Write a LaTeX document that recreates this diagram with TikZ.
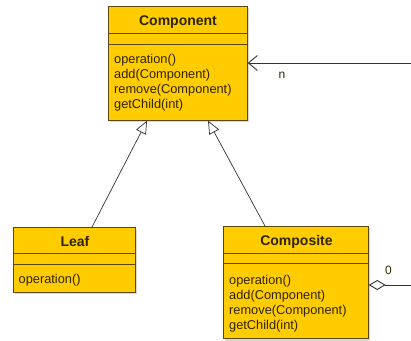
\documentclass[tikz,border=0pt]{standalone}
\usepackage{fontspec}
\setmainfont{Liberation Sans}
\usetikzlibrary{arrows.meta,calc}
\definecolor{umlfill}{HTML}{FFCC00}
\definecolor{umlline}{HTML}{5A4810}
\definecolor{umltext}{HTML}{2E2400}
\definecolor{umlshadow}{HTML}{D8D8D8}
\definecolor{linkcol}{HTML}{333333}
\begin{document}
\begin{tikzpicture}[x=1pt,y=-1pt,
  classbox/.style={draw=umlline, fill=umlfill, line width=0.7pt, inner sep=0pt,
    anchor=north west, minimum width=#1},
  classbox/.default=100pt,
  sepline/.style={draw=umlline, line width=0.8pt},
  title/.style={anchor=base, inner sep=0pt, font=\bfseries\fontsize{14}{16}\selectfont, text=umltext},
  member/.style={anchor=base west, inner sep=0pt,
    font=\fontsize{12.8}{15}\selectfont, text=umltext},
  link/.style={draw=linkcol, line width=0.7pt},
  mult/.style={anchor=base, font=\fontsize{12}{14}\selectfont, text=umltext, inner sep=0pt}]
\useasboundingbox (0,0) rectangle (411,340);
\clip (0,0) rectangle (411,340);

% drop shadows
\fill[umlshadow] (110,8) rectangle (249,122);
\fill[umlshadow] (15,229) rectangle (137,294);
\fill[umlshadow] (225,228) rectangle (370,342);

% Component
\node[classbox=139pt, minimum height=114pt] (comp) at (108,6) {};
\draw[sepline] (108,33) -- (247,33);
\draw[sepline] (108,44) -- (247,44);
\node[title] (compname) at (178,25) {Component};
\node[member] (cop1) at (114,63.3) {operation()};
\node[member] (cop2) at (114,78.3) {add(Component)};
\node[member] (cop3) at (114,93.3) {remove(Component)};
\node[member] (cop4) at (114,108.3) {getChild(int)};

% Leaf
\node[classbox=122pt, minimum height=65pt] (leaf) at (13,227) {};
\draw[sepline] (13,253) -- (135,253);
\draw[sepline] (13,264) -- (135,264);
\node[title] (leafname) at (75,246) {Leaf};
\node[member] (lop1) at (18.5,283) {operation()};

% Composite
\node[classbox=145pt, minimum height=112pt] (compo) at (223,226) {};
\draw[sepline] (223,253) -- (368,253);
\draw[sepline] (223,263.5) -- (368,263.5);
\node[title] (componame) at (296.5,245.5) {Composite};
\node[member] (xop1) at (229,284.3) {operation()};
\node[member] (xop2) at (229,299.3) {add(Component)};
\node[member] (xop3) at (229,314.3) {remove(Component)};
\node[member] (xop4) at (229,329.3) {getChild(int)};

% generalizations
\draw[link, -{Triangle[open, length=13pt, width=11pt, fill=white]}]
  ($(leaf.north west)+(79,0)$) -- ($(comp.south west)+(39,0)$);
\draw[link, -{Triangle[open, length=13pt, width=11pt, fill=white]}]
  ($(compo.north west)+(42,0)$) -- ($(comp.south west)+(100,0)$);

% aggregation of children
\coordinate (edgeA) at (411,63);
\coordinate (edgeB) at (411,285);
\draw[link, -{Straight Barb[length=9pt, width=15pt, line width=0.9pt]}]
  (edgeA) -- (comp.east |- edgeA);
\draw[link, -{Diamond[open, length=17pt, width=10pt, fill=white, line width=0.9pt]}]
  (edgeB) -- (compo.east |- edgeB);
\node[mult] (nlabel) at (282,78.5) {n};
\node[mult] (zlabel) at (388.5,274) {0};
\end{tikzpicture}
\end{document}
